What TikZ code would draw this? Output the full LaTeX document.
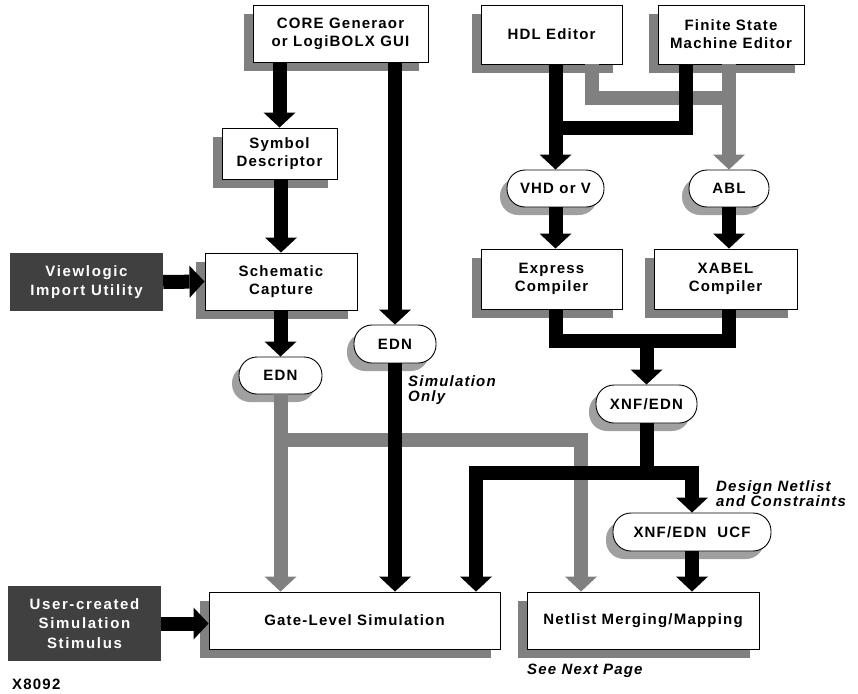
\documentclass[tikz,border=0pt]{standalone}
\usepackage{fontspec}
\setmainfont{Liberation Sans}
\newfontfamily\lsf[LetterSpace=8]{Liberation Sans}
\newfontfamily\lsw[LetterSpace=11]{Liberation Sans}
\usetikzlibrary{arrows.meta,shadows}
\definecolor{lg}{HTML}{808080}
\definecolor{pg}{HTML}{A0A0A0}
\definecolor{dk}{HTML}{404040}
\tikzset{
  box/.style={draw=black, line width=0.9pt, fill=white, inner sep=0pt, align=center,
    font=\lsf\bfseries\fontsize{15}{18}\selectfont,
    general shadow={fill=lg, shadow xshift=-9pt, shadow yshift=-9pt}},
  pill/.style={draw=black, line width=0.9pt, fill=white, rounded corners=18pt, inner sep=0pt,
    minimum height=37pt, font=\lsf\bfseries\fontsize{15}{18}\selectfont,
    general shadow={fill=pg, shadow xshift=-7pt, shadow yshift=-8pt}},
  dbox/.style={fill=dk, text=white, inner sep=0pt, align=center,
    font=\lsw\bfseries\fontsize{15}{19.5}\selectfont},
  lbl/.style={inner sep=0pt, align=left, font=\lsf\bfseries\itshape\fontsize{15}{15.5}\selectfont},
  bline/.style={draw=black, line width=14pt, line join=miter},
  gline/.style={draw=lg, line width=14pt, line join=miter},
  barr/.style={bline, -{Triangle[length=15pt,width=32pt,line width=0pt]}},
  garr/.style={gline, -{Triangle[length=15pt,width=32pt,line width=0pt]}},
}
\begin{document}
\begin{tikzpicture}[x=1pt,y=-1pt]
\useasboundingbox (0,0) rectangle (858,693);

% nodes
\node[box, minimum width=175pt, minimum height=57pt] (core) at (340.5,33.5) {CORE Generaor\\or LogiBOLX GUI};
\node[box, minimum width=141pt, minimum height=59pt] (hdl) at (551.5,34.5) {HDL Editor};
\node[box, minimum width=146pt, minimum height=59pt] (fsm) at (731,34.5) {Finite State\\Machine Editor};
\node[box, minimum width=115pt, minimum height=51pt] (sym) at (279.5,153.5) {Symbol\\Descriptor};
\node[box, minimum width=152pt, minimum height=57pt] (sch) at (281,281.5) {Schematic\\Capture};
\node[dbox, minimum width=153pt, minimum height=58pt] (view) at (86.5,282) {Viewlogic\\Import Utility};
\node[pill, minimum width=97pt] (vhd) at (555.5,188.5) {VHD or V};
\node[pill, minimum width=80pt] (abl) at (729,188.5) {ABL};
\node[box, minimum width=141pt, minimum height=60pt] (expr) at (551.5,279) {Express\\Compiler};
\node[box, minimum width=143pt, minimum height=60pt] (xab) at (725.5,279) {XABEL\\Compiler};
\node[pill, minimum width=83pt] (edn1) at (280.5,375.5) {EDN};
\node[pill, minimum width=82pt, minimum height=38pt] (edn2) at (395,344) {EDN};
\node[pill, minimum width=101pt, minimum height=38pt] (xnf) at (646.5,404) {XNF/EDN};
\node[pill, minimum width=158pt, minimum height=38pt] (ucf) at (692,532) {XNF/EDN\ \ UCF};
\node[box, minimum width=291pt, minimum height=57pt] (gate) at (354.5,620.5) {Gate-Level Simulation};
\node[box, minimum width=232pt, minimum height=57pt] (net) at (643,620.5) {Netlist Merging/Mapping};
\node[dbox, minimum width=153pt, minimum height=75pt] (user) at (84.5,623.5) {User-created\\Simulation\\Stimulus};

% labels
\node[lbl, anchor=west] (simonly) at (408,390) {Simulation\\Only};
\node[lbl, anchor=west] (dnc) at (716,493.5) {Design Netlist\\and Constraints};
\node[lbl, anchor=west] (snp) at (527,671) {See Next Page};
\node[inner sep=0pt, anchor=base west, font=\lsf\bfseries\fontsize{15}{18}\selectfont] (fig) at (12,689) {X8092};

% junction coordinates
\coordinate (hg) at (592,98);
\coordinate (fg) at (729,98);
\coordinate (hb) at (555.5,128);
\coordinate (fb) at (686,128);
\coordinate (ej) at (555.5,341);
\coordinate (xj) at (729,341);
\coordinate (mj) at (646.5,341);
\coordinate (gj) at (280.5,440);
\coordinate (gr) at (581,440);
\coordinate (bj) at (646.5,473);
\coordinate (bl) at (476,473);

% gray connectors
\draw[gline] (hg |- hdl.south) -- (hg) -- (fg);
\draw[garr] (abl.north |- fsm.south) -- (abl.north);
\draw[garr] (edn1.south) -- (edn1.south |- gate.north);
\draw[garr] (gj) -- (gr) -- (gr |- net.north);

% black connectors
\draw[barr] (sym.north |- core.south) -- (sym.north);
\draw[barr] (edn2.north |- core.south) -- (edn2.north);
\draw[barr] (sch.north |- sym.south) -- (sch.north);
\draw[barr] (view.east) -- (sch.west);
\draw[barr] (edn1.north |- sch.south) -- (edn1.north);
\draw[barr] (edn2.south) -- (edn2.south |- gate.north);
\draw[barr] (user.east) -- (user.east -| gate.west);
\draw[barr] (vhd.north |- hdl.south) -- (vhd.north);
\draw[bline] (fb |- fsm.south) -- (fb) -- (hb);
\draw[barr] (vhd.south) -- (vhd.south |- expr.north);
\draw[barr] (abl.south) -- (abl.south |- xab.north);
\draw[bline] (ej |- expr.south) -- (ej) -- (xj) -- (xj |- xab.south);
\draw[barr] (mj) -- (xnf.north);
\draw[bline] (xnf.south) -- (bj);
\draw[barr] (bj) -| (ucf.north);
\draw[barr] (bj) -- (bl) -- (bl |- gate.north);
\draw[barr] (ucf.south) -- (ucf.south |- net.north);
\end{tikzpicture}
\end{document}
